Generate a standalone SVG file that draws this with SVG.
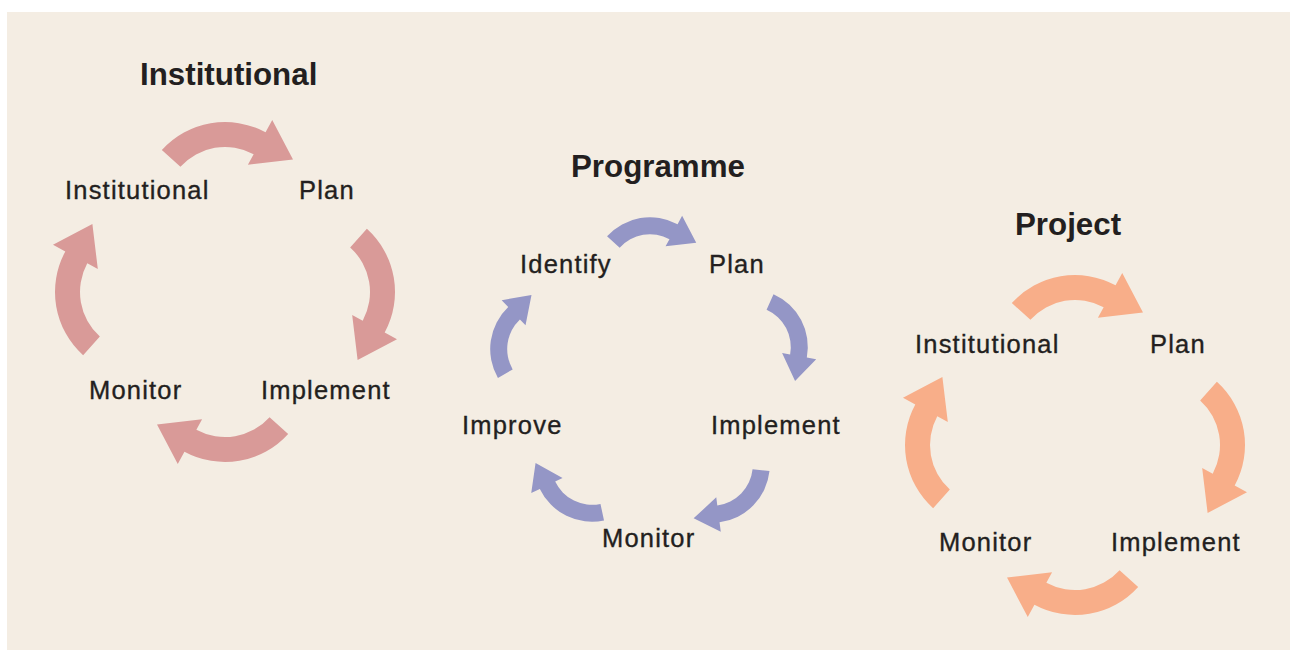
<svg xmlns="http://www.w3.org/2000/svg" xmlns:xlink="http://www.w3.org/1999/xlink" width="1290" height="650" viewBox="0 0 1290 650">
  <defs>
    <!-- curved block arrow: arc centre at origin, runs clockwise on the right-hand side -->
    <path id="arc-arrow" d="M56.88,-63.17 A85,85 0 0 1 74.70,40.56 L87.0,47.24 L47.61,67.99 L42.18,22.91 L52.73,28.63 A60,60 0 0 0 40.15,-44.59 Z"/>
  </defs>
  <style>
    .title { font-family: "Liberation Sans", Arial, sans-serif; font-weight: bold; font-size: 31.3px; fill: #231f20; }
    .label { font-family: "Liberation Sans", Arial, sans-serif; font-size: 25.5px; letter-spacing: 1.2px; fill: #231f20; stroke: #231f20; stroke-width: 0.35px; }
    .inst { fill: #d99a98; }
    .prog { fill: #9496c6; }
    .proj { fill: #f8ae89; }
  </style>

  <rect x="0" y="0" width="1290" height="650" fill="#ffffff"/>
  <rect x="7" y="12" width="1283" height="638" fill="#f4ede3"/>

  <!-- connectors: cycle arrows -->
  <g id="connectors">
    <g id="cycle-institutional" class="inst">
      <use xlink:href="#arc-arrow" transform="translate(225,207) rotate(-90)"/>
      <use xlink:href="#arc-arrow" transform="translate(310,292) rotate(0)"/>
      <use xlink:href="#arc-arrow" transform="translate(225,377) rotate(90)"/>
      <use xlink:href="#arc-arrow" transform="translate(140,292) rotate(180)"/>
    </g>
    <g id="cycle-programme" class="prog">
      <use xlink:href="#arc-arrow" transform="translate(650,275) rotate(-90) scale(0.68)"/>
      <use xlink:href="#arc-arrow" transform="translate(750,347) rotate(-18) scale(0.68)"/>
      <use xlink:href="#arc-arrow" transform="translate(712,465) rotate(54) scale(0.68)"/>
      <use xlink:href="#arc-arrow" transform="translate(592,464) rotate(126) scale(0.68)"/>
      <use xlink:href="#arc-arrow" transform="translate(548,349) rotate(198) scale(0.68)"/>
    </g>
    <g id="cycle-project" class="proj">
      <use xlink:href="#arc-arrow" transform="translate(1075,360) rotate(-90)"/>
      <use xlink:href="#arc-arrow" transform="translate(1160,445) rotate(0)"/>
      <use xlink:href="#arc-arrow" transform="translate(1075,530) rotate(90)"/>
      <use xlink:href="#arc-arrow" transform="translate(990,445) rotate(180)"/>
    </g>
  </g>

  <!-- Institutional cycle -->
  <g id="title-institutional"><text class="title" x="140" y="85">Institutional</text></g>
  <g id="inst-institutional"><text class="label" x="65" y="199">Institutional</text></g>
  <g id="inst-plan"><text class="label" x="299" y="199">Plan</text></g>
  <g id="inst-implement"><text class="label" x="261" y="399">Implement</text></g>
  <g id="inst-monitor"><text class="label" x="89" y="399">Monitor</text></g>

  <!-- Programme cycle -->
  <g id="title-programme"><text class="title" x="571" y="177">Programme</text></g>
  <g id="prog-identify"><text class="label" x="520" y="273">Identify</text></g>
  <g id="prog-plan"><text class="label" x="709" y="273">Plan</text></g>
  <g id="prog-implement"><text class="label" x="711" y="434">Implement</text></g>
  <g id="prog-monitor"><text class="label" x="602" y="547">Monitor</text></g>
  <g id="prog-improve"><text class="label" x="462" y="434">Improve</text></g>

  <!-- Project cycle -->
  <g id="title-project"><text class="title" x="1015" y="235">Project</text></g>
  <g id="proj-institutional"><text class="label" x="915" y="353">Institutional</text></g>
  <g id="proj-plan"><text class="label" x="1150" y="353">Plan</text></g>
  <g id="proj-implement"><text class="label" x="1111" y="551">Implement</text></g>
  <g id="proj-monitor"><text class="label" x="939" y="551">Monitor</text></g>
</svg>
